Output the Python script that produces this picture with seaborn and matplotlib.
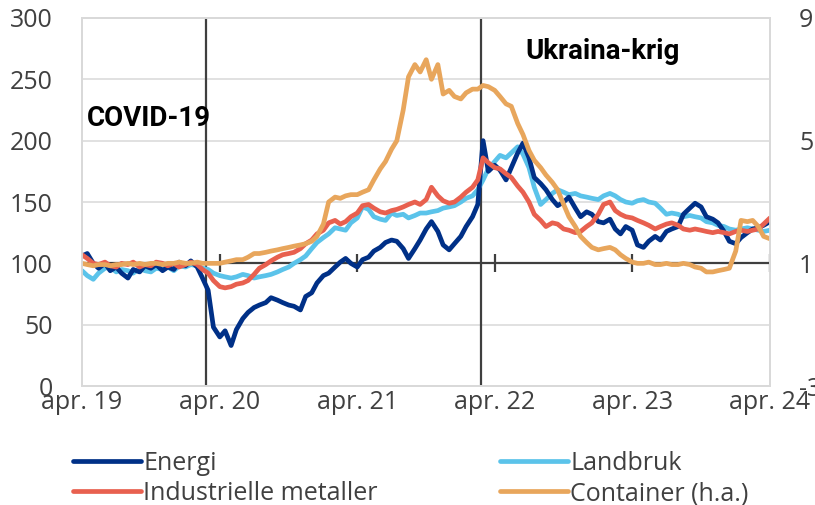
import seaborn as sns
from matplotlib import pyplot as plt
import numpy as np
import pandas as pd

# semi-monthly observations, apr. 2019 - apr. 2024 (index, apr. 2019 = 100)
dates = pd.date_range("2019-04-01", "2024-04-01", freq="SMS")

energi = [
    106, 108, 100, 96, 100, 94, 97, 92, 88, 95, 93, 98, 96, 99, 94, 97, 95, 101, 98, 102,
    97, 88, 78, 48, 40, 45, 33, 46, 55, 60, 64, 66, 68, 72, 70, 68, 66, 65, 62, 73,
    76, 84, 90, 92, 97, 101, 104, 100, 97, 103, 105, 110, 113, 117, 119, 118, 112, 104, 112, 119,
    128, 134, 126, 115, 111, 116, 122, 130, 138, 148, 200, 175, 180, 176, 168, 178, 190, 198, 186, 170,
    165, 160, 152, 147, 150, 154, 145, 138, 142, 140, 134, 133, 136, 128, 124, 130, 127, 115, 113, 118,
    122, 119, 126, 128, 130, 140, 145, 149, 146, 138, 136, 133, 126, 118, 116, 121, 125, 128, 129, 131,
    134,
]

landbruk = [
    94, 90, 87, 92, 96, 97, 93, 95, 94, 92, 96, 94, 93, 96, 95, 97, 94, 98, 97, 99,
    98, 96, 95, 92, 90, 89, 88, 89, 91, 90, 88, 89, 90, 91, 93, 95, 97, 100, 103, 106,
    112, 117, 121, 124, 129, 128, 127, 133, 137, 146, 144, 138, 136, 135, 141, 139, 140, 137, 139, 141,
    141, 142, 143, 145, 146, 147, 150, 153, 155, 160, 168, 177, 183, 188, 186, 190, 195, 189, 178, 162,
    148, 152, 157, 160, 158, 156, 157, 155, 154, 153, 152, 155, 157, 155, 152, 150, 149, 151, 152, 150,
    149, 145, 140, 141, 140, 138, 139, 138, 137, 134, 133, 131, 130, 128, 127, 128, 129, 128, 127, 126,
    127,
]

metaller = [
    107, 104, 100, 99, 101, 98, 97, 100, 99, 101, 97, 99, 98, 101, 100, 98, 100, 97, 99, 101,
    99, 95, 92, 86, 81, 80, 81, 83, 84, 86, 91, 96, 99, 102, 105, 107, 108, 109, 112, 116,
    119, 124, 127, 133, 135, 132, 134, 138, 141, 147, 148, 145, 142, 141, 143, 144, 146, 148, 150, 148,
    152, 162, 155, 151, 149, 150, 154, 158, 162, 168, 186, 182, 178, 177, 173, 170, 163, 158, 150, 140,
    135, 130, 133, 132, 128, 127, 125, 126, 130, 133, 140, 148, 150, 143, 140, 138, 137, 135, 133, 131,
    128, 130, 132, 133, 131, 128, 127, 128, 127, 126, 125, 126, 125, 124, 126, 127, 126, 127, 128, 132,
    137,
]

# container freight, right axis (h.a.)
container = [
    1.00, 0.96, 0.92, 0.96, 0.96, 0.92, 0.96, 0.96, 1.00, 0.96, 1.00, 0.96, 1.00, 1.00, 0.96, 1.00, 1.00, 1.04, 1.00, 1.00,
    1.04, 1.00, 1.00, 1.00, 1.00, 1.04, 1.08, 1.12, 1.12, 1.20, 1.32, 1.32, 1.36, 1.40, 1.44, 1.48, 1.52, 1.56, 1.60, 1.64,
    1.72, 1.88, 2.28, 3.00, 3.16, 3.12, 3.20, 3.24, 3.24, 3.32, 3.40, 3.72, 4.08, 4.32, 4.72, 5.00, 6.00, 7.08, 7.48, 7.24,
    7.64, 7.00, 7.48, 6.52, 6.64, 6.44, 6.36, 6.56, 6.68, 6.68, 6.80, 6.76, 6.64, 6.44, 6.20, 6.12, 5.56, 5.20, 4.68, 4.36,
    4.12, 3.88, 3.64, 3.40, 2.92, 2.52, 2.20, 1.88, 1.68, 1.52, 1.44, 1.48, 1.52, 1.44, 1.28, 1.16, 1.04, 1.00, 1.00, 1.04,
    0.96, 0.96, 1.00, 0.96, 0.96, 1.00, 0.96, 0.88, 0.84, 0.72, 0.72, 0.76, 0.80, 0.84, 1.40, 2.40, 2.36, 2.40, 2.20, 1.88,
    1.80,
]

year_ticks = pd.to_datetime(["2019-04-01", "2020-04-01", "2021-04-01", "2022-04-01", "2023-04-01", "2024-04-01"])
year_labels = ["apr. 19", "apr. 20", "apr. 21", "apr. 22", "apr. 23", "apr. 24"]
events = pd.to_datetime(["2020-02-24", "2022-02-24"])

colors = {
    "Energi": "#003087",
    "Landbruk": "#5BC3EA",
    "Industrielle metaller": "#E8604F",
    "Container (h.a.)": "#E8A65C",
}

df = pd.DataFrame({"dato": dates, "Energi": energi, "Landbruk": landbruk,
                   "Industrielle metaller": metaller, "Container (h.a.)": container})

sns.set_theme(style="white")
plt.rcParams["font.family"] = ["Open Sans", "DejaVu Sans"]
plt.rcParams["axes.unicode_minus"] = False

fig, ax = plt.subplots(figsize=(8.15, 5.05), dpi=100)
fig.subplots_adjust(left=0.1006, right=0.9448, top=0.9644, bottom=0.2356)

grid_col = "#D9D9D9"
dark = "#3F3F3F"
lw = 3.4

for y in [50, 150, 200, 250]:
    ax.axhline(y, color=grid_col, lw=1.1, zorder=0)
for d in events:
    ax.axvline(d, color=dark, lw=1.6, zorder=1)
ax.axhline(100, color=dark, lw=1.6, zorder=1.5)
ax.plot(year_ticks[1:], [100] * 5, ls="none", marker="|", ms=13, mew=1.6, color=dark, zorder=1.5)

for name in ["Landbruk", "Energi", "Industrielle metaller"]:
    sns.lineplot(data=df, x="dato", y=name, ax=ax, color=colors[name], lw=lw, zorder=3)

ax.set_ylim(0, 300)
ax.set_yticks([0, 50, 100, 150, 200, 250, 300])
ax.set_xlim(year_ticks[0], year_ticks[-1])
ax.set_xticks(year_ticks)
ax.set_xticklabels(year_labels)
ax.set_xlabel("")
ax.set_ylabel("")
ax.tick_params(axis="y", length=0, pad=21, labelsize=18, labelcolor="#404040")
ax.tick_params(axis="x", length=0, pad=3, labelsize=18, labelcolor="#404040")

ax2 = ax.twinx()
sns.lineplot(data=df, x="dato", y="Container (h.a.)", ax=ax2, color=colors["Container (h.a.)"], lw=lw)
ax2.set_ylim(-3, 9)
ax2.set_yticks([-3, 1, 5, 9])
ax2.set_ylabel("")
ax2.tick_params(axis="y", length=0, pad=21, labelsize=18, labelcolor="#404040")

for a in (ax, ax2):
    for s in a.spines.values():
        s.set_color(grid_col)
        s.set_linewidth(1.3)

ax.text(0.007, 0.728, "COVID-19", transform=ax.transAxes, fontsize=20,
        fontweight="bold", family=["Roboto", "DejaVu Sans"], va="center", ha="left", color="black")
ax.text(0.644, 0.908, "Ukraina-krig", transform=ax.transAxes, fontsize=20,
        fontweight="bold", family=["Roboto", "DejaVu Sans"], va="center", ha="left", color="black")

order = ["Energi", "Industrielle metaller", "Landbruk", "Container (h.a.)"]
handles = [plt.Line2D([], [], color=colors[n], lw=3.4) for n in order]
fig.legend(handles, order, loc="upper left", bbox_to_anchor=(0.09, 0.107), ncol=2,
           frameon=False, fontsize=18, handlelength=2.7, handletextpad=0.1,
           columnspacing=4.9, labelspacing=0.21, borderpad=0, borderaxespad=0,
           labelcolor="#404040")

fig.savefig("out.png", dpi=100)
